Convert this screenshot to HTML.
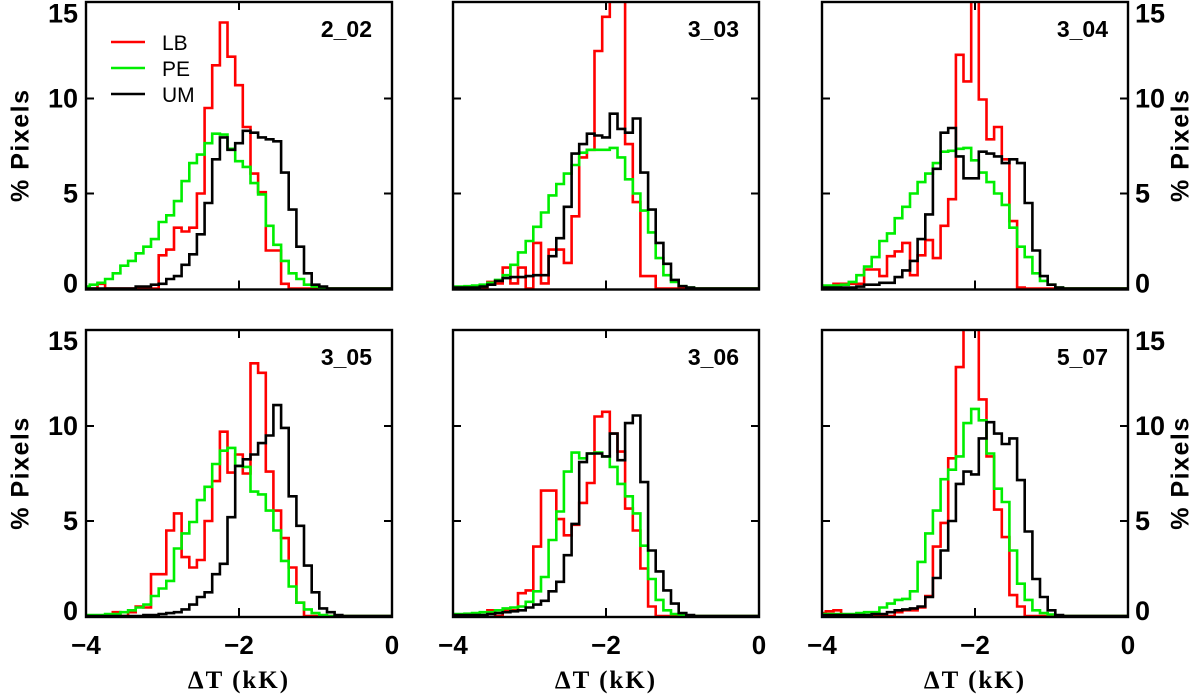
<!DOCTYPE html>
<html><head><meta charset="utf-8">
<style>
html,body{margin:0;padding:0;background:#fff;}
svg{display:block;}
text{font-family:"Liberation Sans",sans-serif;font-weight:bold;fill:#000;}
</style></head>
<body>
<svg id="chart" width="1200" height="697" viewBox="0 0 1200 697" xmlns="http://www.w3.org/2000/svg"></svg>
<script>
// Bin centres -4.0 .. 0.0 step 0.1 (41 bins)
const binCenters = Array.from({length:41},(_,j)=>Math.round((-4+0.1*j)*10)/10);
const panelNames = ["2_02","3_03","3_04","3_05","3_06","5_07"];
const seriesNames = ["LB","PE","UM"];
const yTicks = [0,5,10,15];
const xTicks = [-4,-2,0];

const lb202 = [0,0,0.25,0,0,0,0,0,0,0, 1.75,2.05,3.2,3.0,3.2,5.0,9.5,11.75,14.0,12.2, 10.7,8.5,6.05,5.07,2.0,2.0,0.25];
const pe202 = [0.1,0.2,0.3,0.5,0.8,1.2,1.45,1.85,2.2,2.6, 3.5,3.85,4.6,5.65,6.6,7.05,7.65,8.15,8.1,7.35, 6.7,6.4,5.55,4.95,3.3,2.3,1.45,0.8,0.5,0.2, 0.1];
const um202 = [0,0,0,0,0,0,0,0.1,0.1,0.2, 0.25,0.5,0.65,1.25,1.8,2.85,4.5,6.8,7.95,7.3, 7.65,8.3,8.2,7.95,7.85,7.75,6.1,4.15,2.2,0.8, 0.2,0.1];

const lb303 = [0,0,0,0,0,0.35,0.27,1.1,0.27,1.1, 0,2.4,0.27,2.05,2.05,1.35,3.8,6.9,7.3,12.5, 14.3,18,18,7.6,4.55,0.65,0.65];
const pe303 = [0.1,0.1,0.12,0.15,0.2,0.3,0.45,0.7,1.25,1.9, 2.5,3.25,4.0,4.9,5.5,6.05,6.5,7.15,7.3,7.3, 7.3,7.4,6.9,5.75,5.0,4.1,2.95,1.6,0.7,0.35, 0.12,0.05];
const um303 = [0.05,0.05,0.05,0.05,0.1,0.2,0.4,0.55,0.6,0.6, 0.65,0.7,0.7,1.7,2.65,4.3,7.1,7.6,8.15,8.05, 7.95,9.2,8.4,8.2,8.95,6.1,4.15,2.4,1.3,0.45, 0.12,0.05];

const lb304 = [0.1,0.1,0.25,0.25,0.25,0.25,1.0,1.0,0.65,1.7, 1.95,2.4,0.7,1.75,2.55,1.6,3.3,4.7,12.3,10.9, 18,9.95,7.85,8.5,6.8,3.55,0.05];
const pe304 = [0.15,0.15,0.15,0.2,0.35,0.7,1.15,1.65,2.5,2.9, 3.7,4.3,5.0,5.6,6.05,6.6,7.2,7.25,7.35,7.4, 6.75,6.1,5.6,5.0,4.4,3.2,2.2,1.65,0.8,0.4, 0.2,0.05];
const um304 = [0.05,0.05,0.05,0.05,0.05,0.1,0.2,0.2,0.3,0.3, 0.6,0.95,1.45,2.6,3.9,6.3,8.2,8.45,6.95,5.8, 5.8,7.2,7.1,6.95,6.6,6.8,6.6,4.5,2.0,0.65, 0.2,0.05];

const lb305 = [0,0,0,0,0.2,0,0.2,0.5,0.45,2.2, 2.2,4.5,5.4,3.1,2.55,2.95,5.0,7.1,9.7,7.55, 8.5,7.5,13.3,12.8,7.6,5.55,4.1,2.55,0.7];
const pe305 = [0.05,0.05,0.05,0.1,0.1,0.2,0.3,0.45,0.6,1.05, 1.45,1.85,3.55,4.35,4.95,6.1,6.8,8.0,8.7,8.85, 7.9,7.85,6.55,6.4,5.55,4.5,2.9,1.55,0.7,0.35, 0.15,0.05];
const um305 = [0,0,0,0,0,0,0,0,0.05,0.05, 0.1,0.15,0.2,0.35,0.6,1.0,1.25,2.2,2.75,5.2, 7.9,8.25,8.5,9.1,9.5,11.1,9.9,6.3,4.75,2.65, 1.25,0.4,0.2,0.05];

const lb306 = [0,0,0,0,0,0.3,0,0.3,0.3,1.2, 1.35,3.65,6.6,6.6,5.1,4.25,4.8,5.95,7.0,10.5, 10.75,9.6,8.65,5.65,4.5,2.5,0.5];
const pe306 = [0.1,0.1,0.12,0.15,0.2,0.2,0.3,0.4,0.45,0.5, 0.75,1.3,2.05,4.0,5.5,7.6,8.6,8.3,8.55,8.6, 8.4,7.85,6.95,6.3,5.4,3.7,1.95,0.85,0.3,0.1, 0.05];
const um306 = [0.05,0.05,0.05,0.05,0.05,0.1,0.15,0.2,0.25,0.3, 0.45,0.6,0.8,1.3,1.8,3.2,4.85,8.1,8.55,8.55, 8.4,9.6,8.2,10.15,10.55,7.05,3.45,2.35,1.35,0.65, 0.15,0.05];

const lb507 = [0.15,0.25,0.3,0,0,0,0,0,0,0, 0.2,0.3,0.3,0.45,1.05,3.65,4.9,8.3,13.1,18, 18,11.4,8.4,5.6,4.15,1.1,0.5];
const pe507 = [0.1,0.1,0.1,0.1,0.1,0.15,0.2,0.2,0.45,0.65, 0.85,0.9,1.3,2.85,4.35,5.55,7.2,7.7,8.4,10.15, 10.9,10.3,8.55,6.7,6.0,3.45,1.7,0.85,0.3,0.15, 0.08];
const um507 = [0.05,0.05,0.05,0.05,0.05,0.05,0.05,0.1,0.1,0.2, 0.3,0.35,0.4,0.5,1.0,2.0,3.45,5.0,6.95,7.6, 7.45,9.35,10.2,9.6,9.05,9.35,7.15,4.45,1.95,1.0, 0.3,0.05];

const panelSeries = [[lb202,pe202,um202],[lb303,pe303,um303],[lb304,pe304,um304],[lb305,pe305,um305],[lb306,pe306,um306],[lb507,pe507,um507]];
const colors = ["#ff0000","#00ee00","#000000"];

const NS="http://www.w3.org/2000/svg";
const svg=document.getElementById('chart');
function mk(tag,attrs,parent){const e=document.createElementNS(NS,tag);for(const k in attrs)e.setAttribute(k,attrs[k]);(parent||svg).appendChild(e);return e;}

const colLeft=[86,453,822], W=306;
const rowTop=[2,330], rowZero=[288.5,616], yScale=19;
const defs=mk('defs',{});

panelSeries.forEach((series,p)=>{
  const col=p%3,row=Math.floor(p/3);
  const L=colLeft[col],T=rowTop[row],Z=rowZero[row];
  const xS=v=>L+(v+4)/4*W;
  const yS=v=>Z-v*yScale;
  const g=mk('g',{});
  
  
  const cp=mk('clipPath',{id:'cp'+p},defs);
  mk('rect',{x:L,y:T,width:W,height:Z-T+1},cp);
  const sg=mk('g',{'clip-path':'url(#cp'+p+')'},g);
  series.forEach((vals,s)=>{
    let d='';
    binCenters.forEach((c,j)=>{
      const v=j<vals.length?vals[j]:0;
      const x0=xS(Math.max(-4,c-0.05)),x1=xS(Math.min(0,c+0.05)),y=yS(v);
      d+=(j===0?'M':'L')+x0.toFixed(1)+','+y.toFixed(1)+'L'+x1.toFixed(1)+','+y.toFixed(1);
    });
    const path=mk('path',{d:d,fill:'none',stroke:colors[s],'stroke-width':2.6,'stroke-linejoin':'miter'},sg);
    
    
  });
  const fr=mk('rect',{x:L,y:T,width:W,height:Z-T+1,fill:'none',stroke:'#000','stroke-width':2.4},g);
  
  
  yTicks.slice(1,3).forEach(t=>{
    mk('line',{x1:L,x2:L+8,y1:yS(t),y2:yS(t),stroke:'#000','stroke-width':2},g);
    mk('line',{x1:L+W-8,x2:L+W,y1:yS(t),y2:yS(t),stroke:'#000','stroke-width':2},g);
  });
  mk('line',{x1:xS(-2),x2:xS(-2),y1:T,y2:T+8,stroke:'#000','stroke-width':2},g);
  mk('line',{x1:xS(-2),x2:xS(-2),y1:Z-8,y2:Z,stroke:'#000','stroke-width':2},g);
  const pl=mk('text',{x:L+W-20,y:T+35,'text-anchor':'end','font-size':23},g);
  pl.textContent=panelNames[p];
  
  
  if(col!==1){
    yTicks.forEach(t=>{
      let yy=yS(t)+9; if(t===15) yy=yS(t)+19; if(t===0) yy=yS(t)+4;
      const tx=col===0?mk('text',{x:L-8,y:yy,'text-anchor':'end','font-size':27},g):mk('text',{x:L+W+7,y:yy,'text-anchor':'start','font-size':27},g);
      tx.textContent=t;
      
      
    });
    const cx=col===0?22:1182, cy=(T+Z)/2;
    const yt=mk('text',{x:cx,y:cy,'text-anchor':'middle','dominant-baseline':'middle','font-size':25,'letter-spacing':1.5,transform:'rotate(-90 '+cx+' '+cy+')'},g);
    yt.textContent='% Pixels';
    
    
  }
  if(row===1){
    xTicks.forEach(t=>{
      const tx=mk('text',{x:xS(t),y:654,'text-anchor':'middle','font-size':26},g);
      tx.textContent=(t<0?'\u2212'+(-t):t);
      
      
    });
    const xt=mk('text',{x:L+W/2,y:688,'text-anchor':'middle','font-size':25,'letter-spacing':2,style:'font-family:"Liberation Serif",serif;font-weight:bold'},g);
    xt.textContent='\u0394T (kK)';
    
    
  }
  if(p===0){
    const lg=mk('g',{},g);
    
    
    seriesNames.forEach((n,s)=>{
      const yy=42+s*26;
      const e=mk('g',{},lg);
      
      
      mk('line',{x1:111,x2:145,y1:yy,y2:yy,stroke:colors[s],'stroke-width':2.6},e);
      const tt=mk('text',{x:162,y:yy+8,'font-size':21,style:'font-weight:normal'},e);
      tt.textContent=n;
    });
  }
});
</script>
</body></html>
